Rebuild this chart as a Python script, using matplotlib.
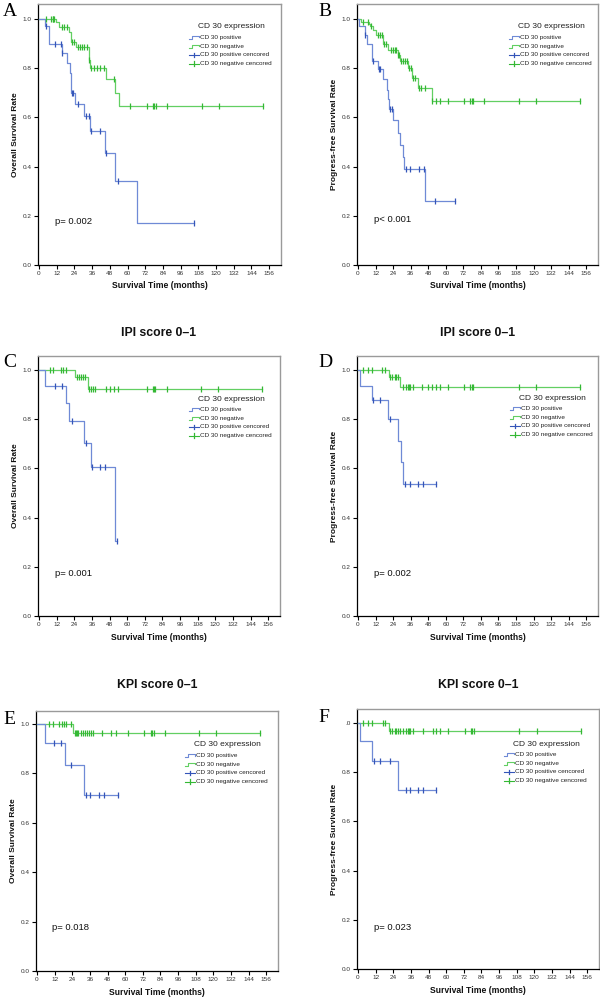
import matplotlib
matplotlib.use('Agg')
import matplotlib.pyplot as plt
from matplotlib.lines import Line2D
import numpy as np

plt.rcParams['font.family'] = ['Liberation Sans', 'DejaVu Sans']

# ---------------- data ----------------
x_ticks = [0, 12, 24, 36, 48, 60, 72, 84, 96, 108, 120, 132, 144, 156]
y_ticks = [0.0, 0.2, 0.4, 0.6, 0.8, 1.0]

legend_title = "CD 30 expression"
legend_labels = ["CD 30 positive", "CD 30 negative",
                 "CD 30 positive cencored", "CD 30 negative cencored"]

# Panel A: overall survival, all patients
a_pos_t = [0, 3.9, 7, 15.4, 18.8, 21, 21.6, 24.5, 30.8, 34.7, 45, 51.7, 66.4]
a_pos_s = [1.0, 0.97, 0.90, 0.862, 0.822, 0.78, 0.70, 0.656, 0.607, 0.546, 0.456, 0.342, 0.17]
a_pos_c = [4.5, 10.9, 15, 15.9, 22.2, 22.9, 26.3, 32, 34.2, 35.1, 41.5, 45.6, 53.3, 105]
a_neg_t = [0, 11.6, 13.8, 20.4, 21.8, 25.2, 33.6, 34.7, 45.6, 51.7, 54.0]
a_neg_s = [1.0, 0.988, 0.969, 0.947, 0.908, 0.888, 0.833, 0.802, 0.755, 0.70, 0.646]
a_neg_c = [4.5, 7.9, 9.3, 9.8, 10.4, 15.4, 17, 18.8, 22.4, 23.8, 26.3, 27.9, 29.3, 30.6,
           32.4, 34.2, 35.4, 37.4, 39.2, 41.5, 44.2, 51, 61.5, 73.2, 77.3, 78.2, 79.1,
           86.8, 110.2, 122, 151.9]

# Panel B: progress-free survival, all patients
b_pos_t = [0, 0.7, 4.8, 6.4, 9.8, 13.4, 17, 19.5, 20.7, 21.5, 23.6, 27, 28.6, 30.5, 31.6, 45.7]
b_pos_s = [1.0, 0.97, 0.935, 0.90, 0.83, 0.795, 0.755, 0.713, 0.673, 0.636, 0.588, 0.537,
           0.489, 0.441, 0.392, 0.26]
b_pos_c = [5, 10.5, 14.5, 15, 22, 23, 32.5, 35.5, 41.5, 45, 52.5, 66.5]
b_neg_t = [0, 1.8, 7.5, 8.4, 10, 12, 17, 20.5, 27.3, 28.4, 34.3, 37, 41, 50.6]
b_neg_s = [1.0, 0.988, 0.98, 0.972, 0.955, 0.935, 0.90, 0.875, 0.855, 0.83, 0.80, 0.76,
           0.718, 0.668]
b_neg_c = [3.4, 6.8, 9, 13.4, 15, 16.6, 18, 19, 22.5, 23.8, 25, 26, 27.5, 28, 29.5, 31,
           32.3, 33.5, 34.8, 36, 37.5, 39, 41.5, 43, 45.5, 50.6, 53, 55.7, 61.4, 72.7,
           76.6, 77.7, 78.6, 86.4, 109.8, 121.6, 151.6]

# Panel C: overall survival, IPI 0-1
c_pos_t = [0, 4.1, 18.1, 20.6, 30.8, 35.1, 51.7]
c_pos_s = [1.0, 0.936, 0.867, 0.793, 0.705, 0.606, 0.303]
c_pos_c = [10.9, 15.4, 22.2, 31.7, 35.8, 41.5, 44.9, 53.3]
c_neg_t = [0, 24.3, 33.6]
c_neg_s = [1.0, 0.97, 0.924]
c_neg_c = [7.5, 9.8, 15, 16.6, 18.4, 25.6, 27.2, 28.6, 29.7, 31.3, 34.2, 35.1, 36.5,
           38.1, 45.6, 48.3, 51, 54, 73.2, 77.3, 78.2, 79.1, 86.8, 110.2, 122, 151.9]

# Panel D: progress-free survival, IPI 0-1
d_pos_t = [0, 1.1, 9.8, 20.5, 27.3, 29.5, 30.9]
d_pos_s = [1.0, 0.936, 0.877, 0.80, 0.713, 0.624, 0.537]
d_pos_c = [10.2, 15.2, 22, 31.8, 35.2, 40.9, 44.3, 53.4]
d_neg_t = [0, 21.1, 28.9]
d_neg_s = [1.0, 0.97, 0.931]
d_neg_c = [3.4, 6.8, 9.8, 16.6, 18.2, 22, 23.4, 25, 26, 27.3, 30.7, 32.5, 34.1, 34.8,
           35.2, 37.5, 43.9, 47.7, 50.7, 53, 55.7, 61.4, 72.7, 76.6, 77.7, 78.6, 109.8,
           121.6, 151.6]

# Panel E: overall survival, KPI 0-1
e_pos_t = [0, 5.4, 18.9, 32.0]
e_pos_s = [1.0, 0.923, 0.834, 0.714]
e_pos_c = [11.7, 16.2, 23.3, 33, 36, 42, 45.9, 54.9]
e_neg_t = [0, 24.8]
e_neg_s = [1.0, 0.963]
e_neg_c = [8.3, 10.6, 15, 17.3, 18.4, 19.6, 23, 25.6, 26.3, 27, 27.9, 29.7, 31.5, 32.4,
           34.1, 35.3, 36.4, 38.2, 44.3, 50.5, 53.7, 61.6, 73.1, 77.3, 78.4, 79.6, 87.4,
           109.9, 121.9, 151.8]

# Panel F: progress-free survival, KPI 0-1
f_pos_t = [0, 1.1, 9.8, 27.5]
f_pos_s = [1.0, 0.926, 0.847, 0.726]
f_pos_c = [10.7, 15.2, 22, 32.5, 35.2, 41.1, 44.3, 53.4]
f_neg_t = [0, 21.1]
f_neg_s = [1.0, 0.968]
f_neg_c = [3.4, 6.8, 9.8, 17, 18.2, 22, 23.4, 25, 26, 27.3, 28.4, 30.7, 32.5, 34.1,
           34.8, 35.7, 37.5, 43.9, 50.7, 53, 55.7, 61.4, 72.7, 76.6, 77.7, 78.6, 109.8,
           121.6, 151.6]

letters = ["A", "B", "C", "D", "E", "F"]
titles = [None, None, "IPI score 0\u20131", "IPI score 0\u20131",
          "KPI score 0\u20131", "KPI score 0\u20131"]
ylabels = ["Overall Survival Rate", "Progress-free Survival Rate"] * 3
xlabel = "Survival Time (months)"
pvalues = ["p= 0.002", "p< 0.001", "p= 0.001", "p= 0.002", "p= 0.018", "p= 0.023"]

series = [
    (a_pos_t, a_pos_s, a_pos_c, a_neg_t, a_neg_s, a_neg_c),
    (b_pos_t, b_pos_s, b_pos_c, b_neg_t, b_neg_s, b_neg_c),
    (c_pos_t, c_pos_s, c_pos_c, c_neg_t, c_neg_s, c_neg_c),
    (d_pos_t, d_pos_s, d_pos_c, d_neg_t, d_neg_s, d_neg_c),
    (e_pos_t, e_pos_s, e_pos_c, e_neg_t, e_neg_s, e_neg_c),
    (f_pos_t, f_pos_s, f_pos_c, f_neg_t, f_neg_s, f_neg_c),
]

# ---------------- layout (pixels) ----------------
W, H = 600, 997
# left, right, top, bottom, pixel of y=1.0
boxes = [
    (38, 281, 4, 265, 19),
    (357, 598, 4, 265, 19),
    (38, 280, 356, 616, 370),
    (357, 598, 356, 616, 370),
    (36, 278, 711, 971, 724),
    (357, 599, 709, 969, 723),
]
letter_pos = [(3, 3), (318, 3), (3, 354), (318, 354), (3, 711), (318, 709)]
title_y = [None, None, 333, 333, 685, 685]
legend_anchor = [(231, 27), (551, 27), (231, 399), (552, 398), (227, 745), (546, 744)]
p_pos = [(55, 222), (374, 220), (55, 574), (374, 574), (52, 927), (374, 927)]

BLUE_L = '#6f8ad6'
BLUE_M = '#3455b8'
GREEN_L = '#62cf62'
GREEN_M = '#34b834'
FRAME = '#9a9a9a'

fig = plt.figure(figsize=(6, 9.97), dpi=100)


def fx(x):
    return x / W


def fy(y):
    return 1 - y / H


def step_value(t, s, x):
    idx = np.searchsorted(np.asarray(t), x, side='right') - 1
    return np.asarray(s)[idx]


def draw_curve(ax, t, s, c, lc, mc):
    end = max(max(c), t[-1])
    tt = list(t) + [end]
    ss = list(s) + [s[-1]]
    ax.step(tt, ss, where='post', color=lc, lw=0.9, zorder=3)
    cy = step_value(t, s, np.asarray(c))
    ax.plot(c, cy, linestyle='none', marker='|', markersize=4.2,
            markeredgewidth=0.9, color=mc, zorder=4)


for i in range(6):
    l, r, t, b, y1 = boxes[i]
    ax = fig.add_axes([fx(l), fy(b), (r - l) / W, (b - t) / H])
    ymax = (b - t) / (b - y1)
    ax.set_ylim(0, ymax)
    ax.set_xlim(-0.7, 164)
    pt, ps, pc, nt, ns, nc = series[i]
    draw_curve(ax, nt, ns, nc, GREEN_L, GREEN_M)
    draw_curve(ax, pt, ps, pc, BLUE_L, BLUE_M)

    ax.set_xticks(x_ticks)
    ax.set_yticks(y_ticks)
    ylabs = ["%.1f" % v for v in y_ticks]
    if i == 5:
        ylabs[-1] = ".0"
    ax.set_yticklabels(ylabs)
    ax.tick_params(axis='both', direction='out', length=3.2, width=0.8,
                   labelsize=4.6, labelcolor='#333333', pad=1.2, color='black')
    for side in ['top', 'right']:
        ax.spines[side].set_color(FRAME)
        ax.spines[side].set_linewidth(1.0)
    for side in ['left', 'bottom']:
        ax.spines[side].set_color('black')
        ax.spines[side].set_linewidth(0.9)

    # axis labels
    ax.text(0.5, -21 / (b - t), xlabel, transform=ax.transAxes, ha='center',
            va='center', fontsize=6.2, fontweight='bold', color='#111111')
    ax.text(-22.5 / (r - l), 0.5, ylabels[i], transform=ax.transAxes, ha='center',
            va='center', rotation=90, fontsize=6.0, fontweight='bold', color='#111111')

    # p-value
    px, py = p_pos[i]
    fig.text(fx(px), fy(py), pvalues[i], ha='left', va='center', fontsize=6.8,
             color='#111111')

    # panel letter
    lx, ly = letter_pos[i]
    fig.text(fx(lx), fy(ly), letters[i], ha='left', va='top', fontsize=14,
             family='Liberation Serif', color='black')

    # title
    if titles[i] is not None:
        fig.text(fx((l + r) / 2), fy(title_y[i]), titles[i], ha='center', va='center',
                 fontsize=8.8, fontweight='bold', color='#111111')

    # legend
    gx, gy = legend_anchor[i]
    fig.text(fx(gx), fy(gy), legend_title, ha='center', va='center', fontsize=6.0,
             color='#222222')
    cols = [BLUE_L, GREEN_L, BLUE_M, GREEN_M]
    for k, lab in enumerate(legend_labels):
        ry = gy + 10.5 + 8.7 * k
        fig.text(fx(gx - 31), fy(ry), lab, ha='left', va='center', fontsize=4.6,
                 color='#222222')
        x0, x1 = gx - 42, gx - 32.5
        if k < 2:
            xs = [x0, x0 + 3, x0 + 3, x1, x1]
            ys = [ry + 1.5, ry + 1.5, ry - 1.5, ry - 1.5, ry]
            fig.add_artist(Line2D([fx(v) for v in xs], [fy(v) for v in ys],
                                  transform=fig.transFigure, color=cols[k], lw=0.8))
        else:
            fig.add_artist(Line2D([fx(x0), fx(x1)], [fy(ry), fy(ry)],
                                  transform=fig.transFigure, color=cols[k], lw=0.8))
            fig.add_artist(Line2D([fx((x0 + x1) / 2)] * 2, [fy(ry - 2.3), fy(ry + 2.3)],
                                  transform=fig.transFigure, color=cols[k], lw=0.9))

fig.savefig('out.png', dpi=100)
